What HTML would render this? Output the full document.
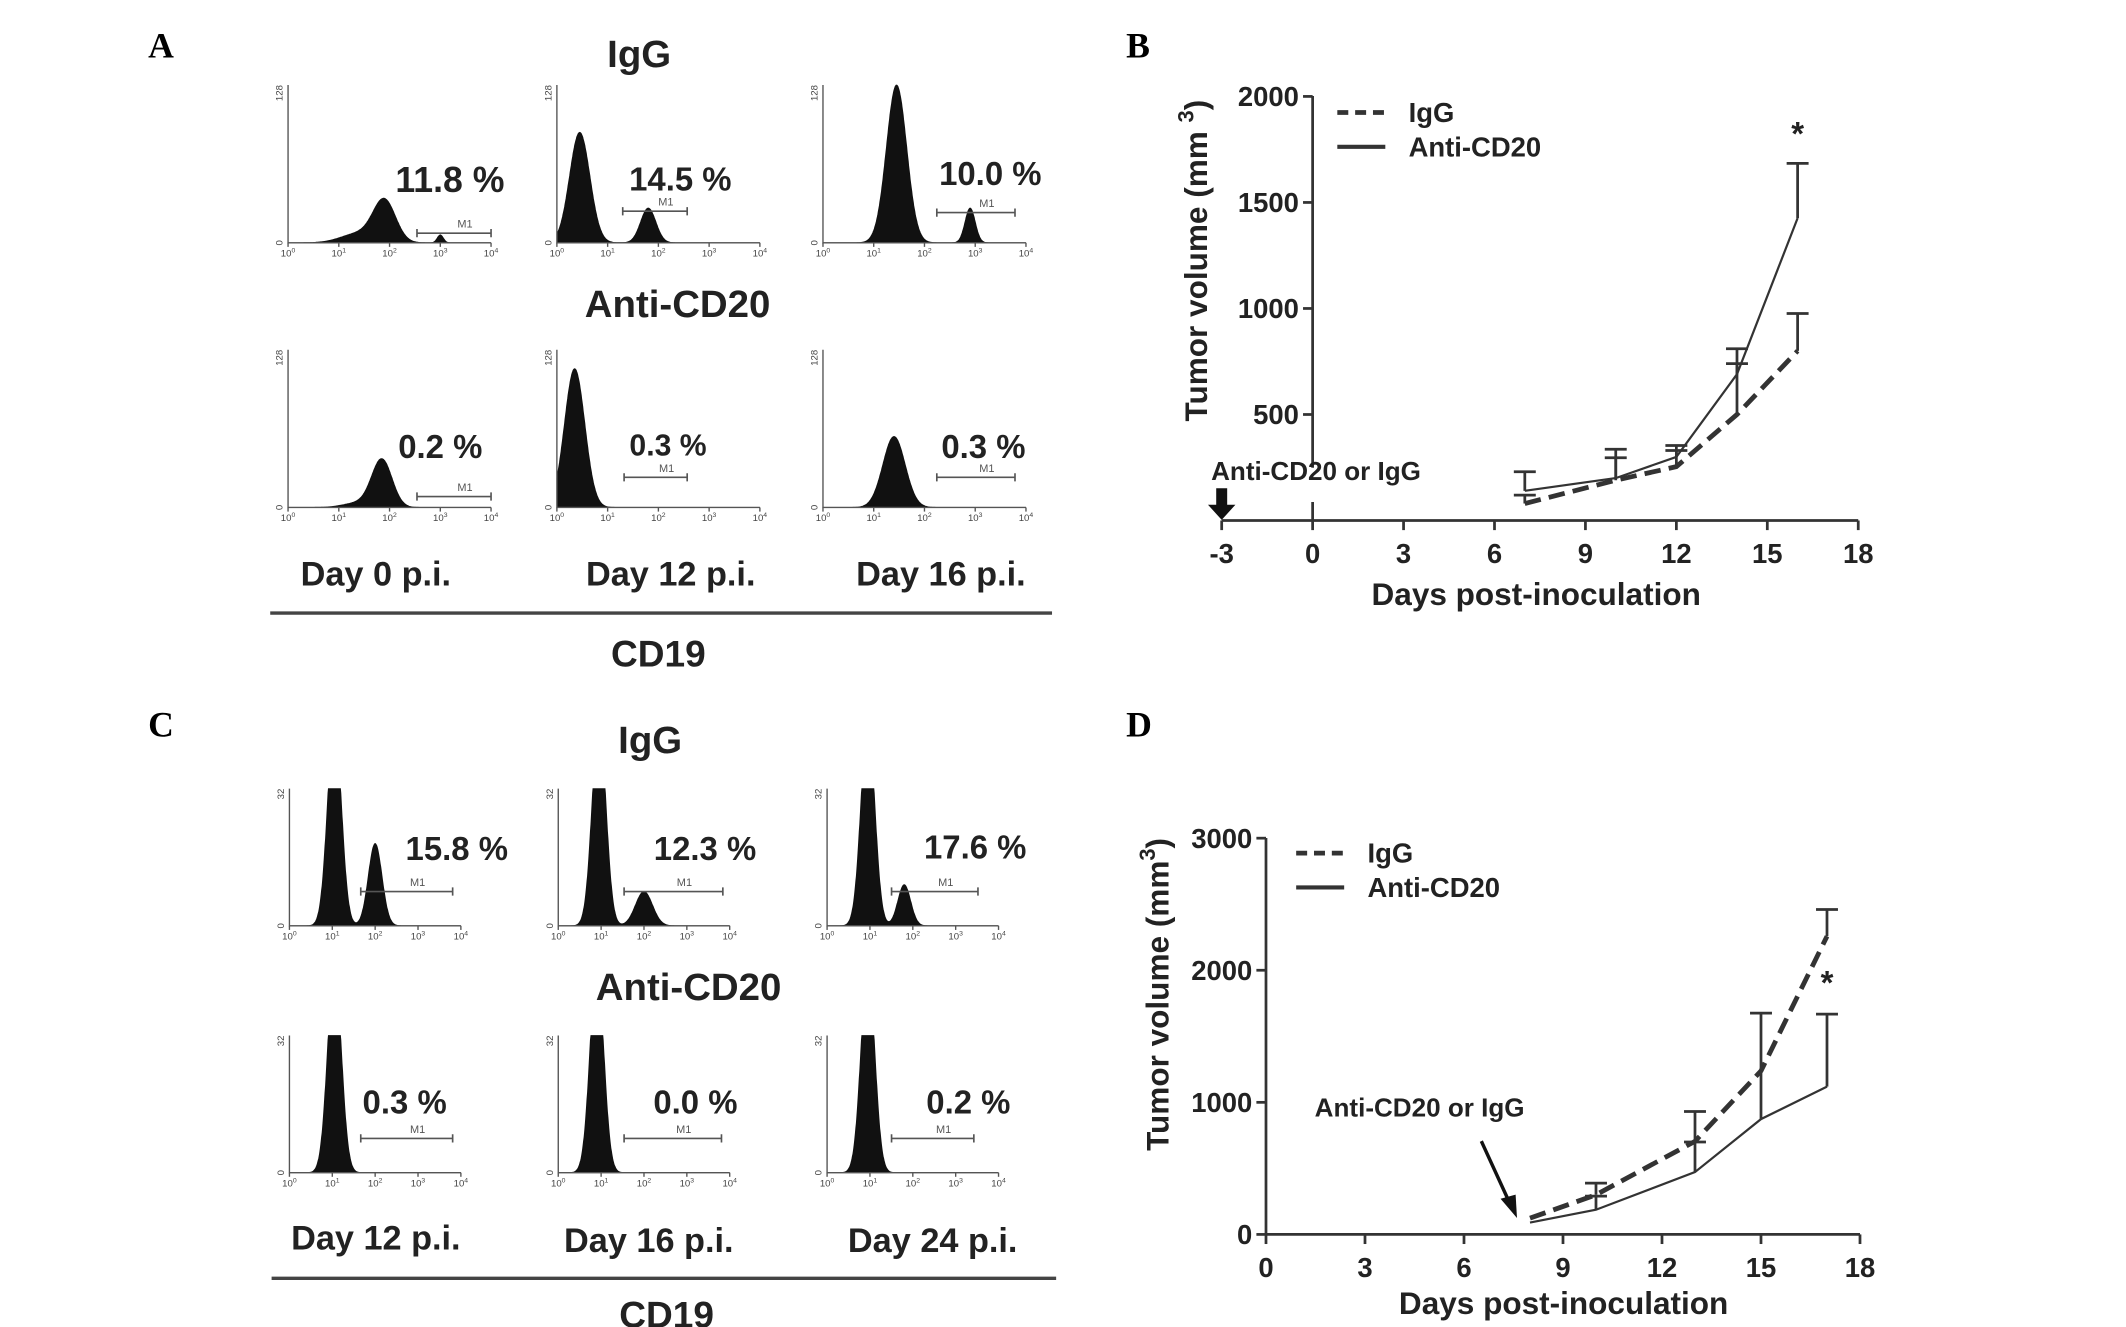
<!DOCTYPE html>
<html><head><meta charset="utf-8"><style>
html,body{margin:0;padding:0;background:#fff;}
svg{display:block;font-family:"Liberation Sans",Arial,sans-serif;}
.b{font-weight:bold;fill:#222;}
</style></head><body>
<svg id="fig" width="2126" height="1327" viewBox="0 0 1550 967.5" xmlns="http://www.w3.org/2000/svg">
<g id="static">
<text x="108" y="42" font-family="Liberation Serif" font-weight="bold" font-size="26">A</text>
<text x="821" y="42" font-family="Liberation Serif" font-weight="bold" font-size="26">B</text>
<text x="108" y="537" font-family="Liberation Serif" font-weight="bold" font-size="26">C</text>
<text x="821" y="537" font-family="Liberation Serif" font-weight="bold" font-size="26">D</text>
</g>
</svg>
<script>
// ---------- data ----------
const daysB = [7, 10, 12, 14, 16];
const igB = [80, 190, 254, 500, 800];
const igBerr = [120, 296, 330, 740, 976];
const antiB = [140, 200, 300, 690, 1426];
const antiBerr = [230, 336, 354, 810, 1684];
const yTicksB = [500, 1000, 1500, 2000];
const xTicks = [-3, 0, 3, 6, 9, 12, 15, 18];

const daysD = [8, 10, 13, 15, 17];
const igD = [123, 300, 705, 1238, 2257];
const igDerr = [120, 388, 931, 1238, 2460];
const antiD = [90, 187, 472, 873, 1119];
const antiDerr = [90, 290, 700, 1675, 1668];
const yTicksD = [0, 1000, 2000, 3000];
const xTicksD = [0, 3, 6, 9, 12, 15, 18];

// histogram peaks: [centerDecade, width, heightFraction]
const histA = [
 [[1.9,0.22,0.26],[1.4,0.35,0.06],[3.0,0.06,0.05]],
 [[0.45,0.2,0.7],[1.8,0.15,0.22]],
 [[1.45,0.2,1.0],[2.9,0.1,0.22]],
 [[1.85,0.2,0.3],[1.4,0.3,0.03]],
 [[0.35,0.2,0.88]],
 [[1.4,0.22,0.45]]
];
const pctA = ["11.8 %","14.5 %","10.0 %","0.2 %","0.3 %","0.3 %"];
const histC = [
 [[1.05,0.16,1.5],[2.0,0.16,0.6]],
 [[0.95,0.16,1.5],[2.0,0.2,0.25]],
 [[0.95,0.16,1.5],[1.8,0.15,0.3]],
 [[1.05,0.16,1.5]],
 [[0.9,0.16,1.5]],
 [[0.95,0.16,1.5]]
];
const pctC = ["15.8 %","12.3 %","17.6 %","0.3 %","0.0 %","0.2 %"];

// ---------- helpers ----------
const NS="http://www.w3.org/2000/svg";
const svg=document.getElementById('fig');
function mk(tag,attrs,parent){const e=document.createElementNS(NS,tag);for(const k in attrs)e.setAttribute(k,attrs[k]);(parent||svg).appendChild(e);return e;}
function txt(x,y,s,size,parent,extra){const t=mk('text',Object.assign({x:x,y:y,'font-size':size,'class':'b','text-anchor':'middle'},extra||{}),parent);t.textContent=s;return t;}

// ---------- histograms ----------
function histPanel(x0,y0,w,h,peaks,pct,pctPos,m1,ymaxLabel,name){
 const g=mk('g',{});
 
 
 const xs=d=>x0+d*w/4, ys=f=>y0-Math.min(f,1)*h;
 let p='M'+x0+','+y0;
 for(let d=0;d<=4.0001;d+=0.01){let f=0;for(const k of peaks)f+=k[2]*Math.exp(-0.5*((d-k[0])/k[1])**2);p+=' L'+xs(d).toFixed(1)+','+ys(f).toFixed(1);}
 p+=' L'+(x0+w)+','+y0+' Z';
 const path=mk('path',{d:p,fill:'#111',stroke:'#111','stroke-width':0.6},g);
 
 
 mk('path',{d:`M${x0},${y0-h} V${y0} H${x0+w}`,fill:'none',stroke:'#555','stroke-width':1},g);
 for(let i=0;i<=4;i++){mk('line',{x1:xs(i),x2:xs(i),y1:y0,y2:y0+3,stroke:'#555'},g);
  const t=mk('text',{x:xs(i),y:y0+10,'font-size':7,'text-anchor':'middle',fill:'#444'},g);t.textContent='10';
  const s=mk('tspan',{dy:-3,'font-size':5},t);s.textContent=i;}
 const t1=mk('text',{x:x0-4,y:y0-h,'font-size':7,fill:'#444',transform:`rotate(-90 ${x0-4} ${y0-h})`,'text-anchor':'end'},g);t1.textContent=ymaxLabel;
 const t0=mk('text',{x:x0-4,y:y0,'font-size':7,fill:'#444',transform:`rotate(-90 ${x0-4} ${y0})`,'text-anchor':'middle'},g);t0.textContent='0';
 mk('path',{d:`M${m1[0]},${m1[2]-3} v6 M${m1[0]},${m1[2]} H${m1[1]} M${m1[1]},${m1[2]-3} v6`,stroke:'#555','stroke-width':1.2,fill:'none'},g);
 const m=mk('text',{x:(m1[0]+m1[1])/2+8,y:m1[2]-4,'font-size':8,fill:'#555','text-anchor':'middle'},g);m.textContent='M1';
 const pt=txt(pctPos[0],pctPos[1],pct,pctPos[2],g);
 
 
}
const axA=[[210,177],[406,177],[600,177],[210,370],[406,370],[600,370]];
const posA=[[328,140,26],[496,139,24],[722,135,24],[321,334,24],[487,332,22],[717,334,24]];
const m1A=[[304,358,170],[454,501,154],[683,740,155],[304,358,362],[455,501,348],[683,740,348]];
for(let i=0;i<6;i++) histPanel(axA[i][0],axA[i][1],148,115,histA[i],pctA[i],posA[i],m1A[i],'128','histogram-a-'+(i+1));
const axC=[[211,675],[407,675],[603,675],[211,855],[407,855],[603,855]];
const posC=[[333,627,24],[514,627,24],[711,626,24],[295,812,24],[507,812,24],[706,812,24]];
const m1C=[[263,330,650],[455,527,650],[650,713,650],[263,330,830],[455,526,830],[650,710,830]];
for(let i=0;i<6;i++) histPanel(axC[i][0],axC[i][1],125,100,histC[i],pctC[i],posC[i],m1C[i],'32','histogram-c-'+(i+1));

txt(466,49,'IgG',28);txt(494,231,'Anti-CD20',28);
txt(274,427,'Day 0 p.i.',25);txt(489,427,'Day 12 p.i.',25);txt(686,427,'Day 16 p.i.',25);
mk('line',{x1:197,x2:767,y1:447,y2:447,stroke:'#444','stroke-width':2.5});
txt(480,486,'CD19',27);
txt(474,549,'IgG',28);txt(502,729,'Anti-CD20',28);
txt(274,911,'Day 12 p.i.',25);txt(473,913,'Day 16 p.i.',25);txt(680,913,'Day 24 p.i.',25);
mk('line',{x1:198,x2:770,y1:932,y2:932,stroke:'#444','stroke-width':2.5});
txt(486,968,'CD19',27);

// ---------- line charts ----------
function lineChart(o){
 const g=mk('g',{});
 
 
 const X=d=>o.x0+(d-o.d0)*o.px, Y=v=>o.y0-v*o.py;
 mk('path',{d:o.yAxisPath,stroke:'#333','stroke-width':2,fill:'none'},g);
 mk('line',{x1:X(o.xt[0]),x2:X(o.xt[o.xt.length-1]),y1:o.y0,y2:o.y0,stroke:'#333','stroke-width':2},g);
 for(const t of o.xt){mk('line',{x1:X(t),x2:X(t),y1:o.y0,y2:o.y0+7,stroke:'#333','stroke-width':2},g);
  const l=txt(X(t),o.y0+31,String(t),20,g);
  
  }
 for(const t of o.yt){mk('line',{x1:o.yx-7,x2:o.yx,y1:Y(t),y2:Y(t),stroke:'#333','stroke-width':2},g);
  const l=txt(o.yx-10,Y(t)+7,String(t),20,g,{'text-anchor':'end'});
  
  }
 const ser=(days,vals,errs,dash,w,nm)=>{
  const s=mk('g',{},g);
  
  
  mk('polyline',{points:days.map((d,i)=>X(d)+','+Y(vals[i])).join(' '),fill:'none',stroke:'#333','stroke-width':w,'stroke-dasharray':dash},s);
  days.forEach((d,i)=>{ if(errs[i]>vals[i]){mk('path',{d:`M${X(d)},${Y(vals[i])} V${Y(errs[i])} M${X(d)-8},${Y(errs[i])} H${X(d)+8}`,stroke:'#333','stroke-width':2,fill:'none'},s);}});
 };
 ser(o.days,o.ig,o.igErr,'12,6',3.5,'igg-series');
 ser(o.days,o.anti,o.antiErr,'',1.6,'anti-cd20-series');
 const st=txt(X(o.starDay),Y(o.starVal),'*',24,g);
 
 
 const lg=mk('g',{},g);
 
 
 mk('line',{x1:o.lg[0],x2:o.lg[0]+35,y1:o.lg[1],y2:o.lg[1],stroke:'#333','stroke-width':3.5,'stroke-dasharray':'8,5'},lg);
 txt(o.lg[0]+52,o.lg[1]+7,'IgG',20,lg,{'text-anchor':'start'});
 mk('line',{x1:o.lg[0],x2:o.lg[0]+35,y1:o.lg[1]+25,y2:o.lg[1]+25,stroke:'#333','stroke-width':3},lg);
 txt(o.lg[0]+52,o.lg[1]+32,'Anti-CD20',20,lg,{'text-anchor':'start'});
 const xt=txt(o.xTitle[0],o.xTitle[1],'Days post-inoculation',23,g);
 
 
 const yt=txt(o.yTitle[0],o.yTitle[1],'',23,g,{transform:`rotate(-90 ${o.yTitle[0]} ${o.yTitle[1]})`});
 
 
 yt.appendChild(document.createTextNode(o.yTitleText));
 const sup=mk('tspan',{dy:-10,'font-size':16},yt);sup.textContent='3';
 const cl=mk('tspan',{dy:10},yt);cl.textContent=')';
 return {X,Y,g};
}
const B=lineChart({name:'chart-b',x0:957,d0:0,px:22.1,y0:379.5,py:0.1546,yx:957,
 yAxisPath:'M957,70 V341 M957,366 V379',xt:xTicks,yt:yTicksB,days:daysB,ig:igB,igErr:igBerr,anti:antiB,antiErr:antiBerr,
 starDay:16,starVal:1770,lg:[975,82],xTitle:[1120,441],yTitle:[880,190],yTitleText:'Tumor volume (mm '});
const ab=mk('g',{});


txt(883,350,'Anti-CD20 or IgG',19,ab,{'text-anchor':'start'});
mk('path',{d:`M${B.X(-3)-4},356 V368 h-6 L${B.X(-3)},379 L${B.X(-3)+10},368 h-6 V356 Z`,fill:'#111'},ab);

const D=lineChart({name:'chart-d',x0:923,d0:0,px:24.06,y0:900,py:0.0963,yx:923,
 yAxisPath:'M923,611 V900',xt:xTicksD,yt:yTicksD,days:daysD,ig:igD,igErr:igDerr,anti:antiD,antiErr:antiDerr,
 starDay:17,starVal:1820,lg:[945,622],xTitle:[1140,958],yTitle:[852,725],yTitleText:'Tumor volume (mm'});
const ad=mk('g',{});


txt(1035,814,'Anti-CD20 or IgG',19,ad);
mk('line',{x1:1080,y1:832,x2:1102,y2:880,stroke:'#111','stroke-width':2.5},ad);
mk('path',{d:'M1106,888 L1094,874 L1105,871 Z',fill:'#111'},ad);
</script>
</body></html>
